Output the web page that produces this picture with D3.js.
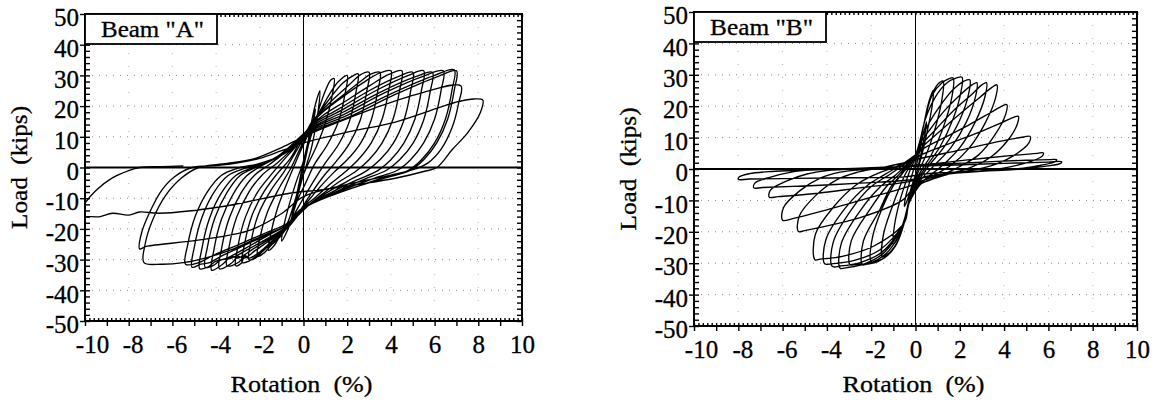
<!DOCTYPE html>
<html><head><meta charset="utf-8">
<script src="https://cdn.jsdelivr.net/npm/d3@7"></script>
<style>html,body{margin:0;padding:0;background:#fff;} svg{display:block;}
svg text{font-family:'Liberation Serif','Tinos','Times New Roman','DejaVu Serif',serif !important; stroke:#000; stroke-width:0.3px;}</style>
</head><body><svg id="c" width="1160" height="401"></svg>
<script>
// ---------- tick labels ----------
const xTicks = [-10,-8,-6,-4,-2,0,2,4,6,8,10];
const yTicks = [-50,-40,-30,-20,-10,0,10,20,30,40,50];
const gridY = [-40,-30,-20,-10,10,20,30,40];
const gridX = [-8,-6,-4,-2,2,4,6,8];

// ---------- Beam "A" load history: [rotation %, load kips], one array per cycle ----------
const beamA = [
 [[0,0],[0.2,7],[0.4,14],[0.3,11],[0,2],[-0.2,-5],[-0.4,-12],[-0.3,-9],[0,0]],
 [[0.3,10],[0.55,19],[0.45,15],[0.1,4],[-0.25,-7],[-0.55,-17],[-0.45,-13],[-0.1,-3],[0,0]],
 [[0.2,8],[0.4,16],[0.6,22],[0.75,25],[0.7,20],[0.55,13],[0.35,6],[0.1,0],[-0.15,-6],[-0.4,-13],[-0.6,-18],[-0.8,-21.5],[-1.0,-24]],
 [[-0.9,-19],[-0.65,-12],[-0.35,-5],[-0.05,1],[0.25,8],[0.5,14],[0.75,20],[1.0,25],[1.25,28.5],[1.4,29],[1.3,23],[1.0,14.5],[0.6,7],[0.2,1],[-0.1,-4],[-0.4,-11],[-0.7,-17.5],[-1.1,-22.5],[-1.35,-25.5],[-1.6,-27]],
 [[-1.5,-21.6],[-1.2,-13.5],[-0.75,-5],[-0.4,1],[0,7.5],[0.4,13.5],[0.8,19],[1.2,24],[1.6,28],[2.0,30],[1.9,24],[1.6,15],[1.1,7.5],[0.5,1],[0.1,-5],[-0.3,-11],[-0.6,-17.5],[-1.0,-22],[-1.5,-25.5],[-1.8,-27.8],[-2.1,-29]],
 [[-2.0,-23],[-1.65,-14.5],[-1.1,-6.5],[-0.6,-0.5],[-0.2,5.5],[0.2,11.5],[0.5,15.5],[1.1,21.5],[1.8,27.5],[2.3,30],[2.5,30.5],[2.4,24.5],[2.1,15],[1.6,7.5],[1.0,1.5],[0.5,-4],[0,-10],[-0.4,-15],[-0.7,-19],[-1.3,-23.5],[-1.9,-27.5],[-2.2,-29.5],[-2.5,-30]],
 [[-2.4,-24],[-2.05,-15],[-1.5,-7.5],[-0.9,-1.5],[-0.4,4.5],[0,9.5],[0.35,14.5],[0.7,17.5],[1.4,22.5],[2.1,27],[2.6,30.2],[3.0,31],[2.9,25],[2.6,15.5],[2.1,7.8],[1.5,2],[0.9,-3],[0.3,-9],[-0.2,-14.5],[-0.6,-18.5],[-1.3,-23.5],[-2.0,-28],[-2.5,-30.5],[-2.8,-31]],
 [[-2.7,-25],[-2.35,-15.5],[-1.8,-7.8],[-1.2,-2],[-0.6,3],[-0.2,8],[0.2,12.5],[0.55,16],[1.0,19],[1.8,23.5],[2.6,28],[3.1,30.5],[3.5,31],[3.4,25],[3.1,15.5],[2.6,7.8],[2.0,2.5],[1.4,-1.5],[0.8,-6],[0.2,-11],[-0.3,-15.5],[-0.65,-19],[-1.4,-24],[-2.2,-28.5],[-2.5,-29.6],[-2.7,-29],[-2.85,-31.2],[-3.1,-32]],
 [[-3.0,-25.6],[-2.65,-16],[-2.1,-8],[-1.5,-2.5],[-0.9,2.5],[-0.4,6.5],[0,10.5],[0.4,14.5],[0.8,17.5],[1.7,22.5],[2.7,27.5],[3.5,30.8],[4.0,31.5],[3.9,25.2],[3.6,15.8],[3.1,8],[2.5,2.5],[1.9,-1.5],[1.2,-5.5],[0.5,-10],[0,-13],[-0.35,-16.5],[-0.7,-19.5],[-1.3,-23],[-2.0,-27.5],[-2.5,-29.5],[-2.7,-28.6],[-2.95,-30.8],[-3.5,-32]],
 [[-3.4,-25.6],[-3.05,-16],[-2.5,-8],[-1.9,-2.5],[-1.2,1.5],[-0.6,5.5],[-0.1,9.5],[0.4,14],[0.9,17],[1.9,21.5],[3.0,26.5],[3.9,30.3],[4.5,31.5],[4.4,25.2],[4.1,15.8],[3.6,8],[3.0,2.5],[2.4,-1.2],[1.6,-4.8],[0.8,-9],[0.2,-12.5],[-0.3,-16],[-0.7,-19.5],[-1.3,-22.5],[-2.2,-27],[-2.7,-29.5],[-3.0,-29],[-3.3,-31.2],[-3.85,-33]],
 [[-3.75,-26.4],[-3.4,-16.5],[-2.85,-8.2],[-2.25,-2.6],[-1.6,0.8],[-1.0,4],[-0.4,8],[0.1,11.5],[0.5,14.5],[1.6,19],[3.0,25],[4.3,29.5],[5.0,31],[4.9,24.8],[4.6,15.5],[4.1,7.8],[3.5,2.5],[2.9,-1],[2.0,-4.5],[1.0,-8.5],[0.2,-12.5],[-0.3,-15.5],[-0.7,-19],[-1.4,-22.5],[-2.3,-26.5],[-3.0,-29.5],[-3.3,-29],[-3.7,-31.5],[-4.2,-33.5]],
 [[-4.1,-26.8],[-3.75,-16.8],[-3.2,-8.4],[-2.6,-2.7],[-2.0,0.2],[-1.3,3],[-0.6,7],[0,11],[0.5,14],[1.7,18.5],[3.3,25],[4.8,30],[5.5,31.5],[5.4,25.2],[5.1,15.8],[4.6,8],[4.0,2.5],[3.4,-1],[2.4,-4.2],[1.3,-8],[0.3,-12],[-0.3,-15.5],[-0.7,-19],[-1.5,-22.5],[-2.5,-26.5],[-3.3,-29.5],[-3.8,-30.2],[-4.1,-31.8],[-4.5,-32.5]],
 [[-4.4,-26],[-4.05,-16.3],[-3.5,-8.1],[-2.9,-2.6],[-2.2,0],[-1.5,2.3],[-0.7,6],[0,10.5],[0.5,13.5],[1.8,18],[3.5,24.5],[5.1,29.5],[5.9,31],[5.8,24.8],[5.5,15.5],[5.0,7.8],[4.4,2.5],[3.8,-0.9],[2.8,-3.8],[1.6,-7.5],[0.4,-11.5],[-0.3,-15],[-0.7,-18.5],[-1.6,-22],[-2.7,-26.5],[-3.5,-29.5],[-4.0,-30.5],[-4.4,-32.5],[-4.75,-33]],
 [[-4.65,-26.4],[-4.3,-16.5],[-3.75,-8.2],[-3.1,-2.6],[-2.4,-0.2],[-1.6,1.8],[-0.8,5],[0,10],[0.5,13],[1.9,17.5],[3.7,24.3],[5.5,29.8],[6.4,31.5],[6.3,25.2],[6.0,15.8],[5.5,8],[4.9,2.5],[4.3,-0.9],[3.2,-3.6],[1.9,-7],[0.6,-11],[-0.2,-14.5],[-0.7,-18.5],[-1.7,-22],[-2.9,-26],[-3.8,-29],[-4.3,-31],[-4.7,-31.5],[-5.1,-32.5]],
 [[-5.0,-26],[-4.65,-16.3],[-4.1,-8.1],[-3.45,-2.6],[-2.7,-0.3],[-1.8,1.5],[-0.9,4.5],[0,9.5],[0.5,12.5],[2.0,17],[4.0,24],[6.0,30],[6.9,31.8],[6.8,25.4],[6.5,15.9],[6.0,8],[5.4,2.5],[4.8,-0.9],[3.6,-3.5],[2.2,-6.8],[0.8,-10.5],[-0.2,-14],[-0.7,-18],[-1.8,-21.5],[-3.1,-25.5],[-4.1,-28.5],[-4.8,-31],[-5.4,-31.5]],
 [[-5.3,-25.2],[-4.95,-15.8],[-4.4,-7.9],[-3.75,-2.5],[-3.0,-0.2],[-2,1.3],[-1,4],[0,9],[0.5,12],[2.1,16.5],[4.2,23.8],[6.2,29.8],[7.0,31.5],[6.9,25.2],[6.6,15.8],[6.1,8],[5.5,2.5],[4.9,-0.9],[3.8,-3.3],[2.4,-6.3],[0.9,-10],[-0.2,-14],[-0.7,-18.5],[-1.8,-22],[-3.2,-26.5],[-4.5,-29.5],[-5.5,-31],[-6.5,-31.5],[-7.3,-31]],
 [[-7.25,-25],[-6.9,-17],[-6.3,-9],[-5.6,-3.5],[-4.8,0],[-3.5,1.3],[-2.2,3],[-1,6.5],[0,10],[1.5,14.5],[3.5,20],[5.5,24.5],[7.2,26.6],[7.1,21],[6.8,13],[6.3,6],[5.7,1.5],[5.2,-0.3],[4,-2.5],[2,-5.5],[0,-9.5],[-1,-15],[-2.4,-20.3],[-4.75,-23.6],[-7.2,-25.7],[-7.5,-26.5]],
 [[-7.4,-21],[-7.0,-14],[-6.5,-7.5],[-5.9,-3],[-5.1,0],[-4,0.6],[-3,1.5],[-2,3],[-1,5.5],[0,8],[2,11.5],[4.2,14.8],[6.2,19.5],[7.1,21.5],[7.8,22.3],[8.2,22],[8.1,18],[7.5,11.2],[6.8,5.8],[6.1,0],[5.5,-1.3],[4.2,-3.5],[2.5,-5.5],[0.9,-7.2],[-0.64,-8.4],[-3.7,-12.7],[-6.6,-14.9],[-7.5,-14.5],[-8,-15.5],[-8.75,-14.9],[-9.3,-16],[-10,-16],[-10.5,-16.5]],
 [[-10.2,-14],[-10,-11.6],[-9.5,-7.5],[-8.75,-3.4],[-8,-1],[-7.5,0],[-6.5,0.3],[-5.5,0.5]]
];

// ---------- Beam "B" load history ----------
const beamB = [
 [[0,0],[0.15,4.5],[0.3,9.5],[0.42,13],[0.5,15],[0.45,12],[0.25,5],[0.05,-1],[-0.15,-5],[-0.3,-8.5],[-0.42,-10.8],[-0.5,-12]],
 [[-0.45,-9],[-0.3,-5],[-0.1,-0.5],[0.1,5],[0.25,10],[0.4,15],[0.55,20],[0.7,23.5],[0.8,25],[0.75,20],[0.5,11],[0.25,3.5],[0.05,-1],[-0.15,-5],[-0.3,-10],[-0.5,-16],[-0.7,-20],[-0.88,-23],[-1.0,-24]],
 [[-0.95,-18],[-0.7,-10],[-0.45,-4.5],[-0.25,-0.5],[0,3.5],[0.2,8],[0.4,15],[0.65,22],[0.95,26.5],[1.1,27.6],[1.25,28],[1.2,22.4],[0.85,12],[0.45,4],[0.15,-0.5],[-0.1,-5],[-0.3,-11],[-0.5,-17],[-0.8,-23],[-1.15,-26.5],[-1.35,-27.5],[-1.5,-28]],
 [[-1.45,-21],[-1.05,-12],[-0.7,-5.5],[-0.45,-1.5],[-0.2,1.5],[0,4.5],[0.2,8],[0.4,15],[0.75,23.5],[1.2,27.5],[1.5,28.7],[1.7,29],[1.65,23.2],[1.2,12.2],[0.7,4.3],[0.3,0],[0,-4],[-0.3,-11],[-0.5,-17],[-0.9,-24.5],[-1.4,-28.3],[-1.7,-29.2],[-2.0,-29.5]],
 [[-1.95,-22],[-1.5,-12.4],[-1.0,-5.3],[-0.6,-1.5],[-0.25,1.5],[0,4.5],[0.2,9],[0.45,16],[0.9,23],[1.4,27.3],[1.85,29],[2.1,29.2],[2.05,24.5],[1.7,16],[1.1,7],[0.45,0.5],[0.05,-4],[-0.3,-11],[-0.5,-17],[-1.0,-25.5],[-1.7,-29.5],[-2.2,-30.3],[-2.4,-30.5]],
 [[-2.35,-22.9],[-1.6,-12.8],[-1.1,-5.5],[-0.65,-1.8],[-0.3,1.5],[0,4.5],[0.2,8.5],[0.6,14.5],[1.1,20],[1.7,25.3],[2.2,28],[2.45,28.4],[2.4,24],[2.0,15.6],[1.3,7.1],[0.6,1],[0.1,-4.2],[-0.3,-11],[-0.5,-17],[-1.2,-26],[-2.0,-29.8],[-2.7,-30.4],[-2.95,-30.5]],
 [[-2.9,-22.9],[-2.05,-12.8],[-1.3,-5.5],[-0.75,-1.8],[-0.35,1.5],[0,4.5],[0.2,8],[0.7,13],[1.3,18.5],[2.0,23.5],[2.55,26.8],[2.77,27.5],[2.72,23.4],[2.3,15],[1.6,6.8],[0.8,0.8],[0.15,-4.3],[-0.3,-11],[-0.5,-17],[-1.4,-26.5],[-2.3,-30.2],[-3.1,-31.4],[-3.4,-31.6]],
 [[-3.35,-23.7],[-2.5,-13.3],[-1.6,-5.7],[-0.9,-1.9],[-0.4,1.5],[0,4.5],[0.25,7.5],[0.9,12.5],[1.7,18.5],[2.5,23.5],[3.0,26.8],[3.2,27.5],[3.15,23.4],[2.7,15],[2.0,6.8],[1.2,1],[0.3,-4.2],[-0.3,-11],[-0.5,-17],[-1.5,-26.4],[-2.5,-29.8],[-3.4,-30.9],[-3.76,-31]],
 [[-3.71,-23.2],[-2.9,-13],[-2.0,-5.6],[-1.2,-1.9],[-0.5,1.5],[0,4.5],[0.3,7],[1.1,12],[2.0,17.5],[2.9,22.8],[3.45,26],[3.67,26.8],[3.62,22.8],[3.15,14.7],[2.4,6.5],[1.6,1.2],[0.7,-2.5],[0.1,-5],[-0.3,-11],[-0.5,-17],[-1.6,-25.7],[-2.8,-29.2],[-3.8,-30.2],[-4.1,-30.2]],
 [[-4.05,-22.6],[-3.2,-12.7],[-2.2,-5.4],[-1.4,-1.8],[-0.6,1.5],[0,4.5],[0.35,6.5],[1.3,10],[2.4,14],[3.4,18],[3.95,20.2],[4.12,20.5],[4.07,17.4],[3.6,11],[2.85,4.5],[2.0,0.8],[1.0,-2.5],[0.2,-5],[-0.3,-11],[-0.5,-17],[-1.9,-24.6],[-3.3,-27.8],[-4.3,-28.7],[-4.54,-28.9]],
 [[-4.52,-20.8],[-3.7,-12.1],[-2.7,-5.2],[-1.8,-1.7],[-0.8,1],[0,3.5],[0.4,5],[1.5,8],[2.8,11.5],[3.9,14.8],[4.45,16.5],[4.64,16.8],[4.59,14.2],[4.15,9],[3.4,3.8],[2.5,0.5],[1.3,-2],[0.3,-4.5],[-0.2,-7],[-0.6,-10],[-2.5,-15.5],[-4.3,-18.6],[-5.0,-19.6],[-5.29,-19.9]],
 [[-5.24,-14.9],[-4.5,-8.4],[-3.6,-3.6],[-2.7,-1.2],[-1.5,0.5],[-0.5,2],[0.3,3.5],[2.0,6],[3.8,8.8],[4.9,10.2],[5.17,10.4],[5.12,8.3],[4.47,4.4],[3.67,1.6],[2.87,0],[1.5,-1.5],[0.4,-3.5],[-0.3,-5.5],[-2.0,-9],[-4.0,-13],[-5.5,-15.7],[-6.0,-16.3]],
 [[-5.95,-12.2],[-5.2,-6.8],[-4.3,-2.9],[-3.4,-1],[-2,0],[-0.5,1],[0.5,1.5],[2.5,3],[4.5,4.4],[5.5,5],[5.77,5.1],[5.72,4.1],[5.07,2.1],[4.27,0.7],[3.47,-0.2],[2,-1.2],[0.5,-2.5],[-0.3,-4],[-2.5,-6],[-4.5,-7.8],[-6.2,-8.8],[-6.6,-9]],
 [[-6.55,-6.7],[-5.8,-3.8],[-4.9,-1.6],[-4.0,-0.5],[-2,0.3],[-0.3,1],[1,1.5],[3,2.2],[5,2.8],[6.1,3],[6.37,3],[6.32,2.4],[5.67,1.2],[4.87,0.3],[4.07,-0.2],[2.5,-1],[0.8,-2],[-0.3,-3.5],[-2.5,-4.5],[-5,-5.4],[-6.9,-5.9],[-7.3,-6]],
 [[-7.25,-4.5],[-6.5,-2.5],[-5.6,-1],[-4.7,-0.3],[-2.5,0.3],[-0.5,0.8],[1.5,1.2],[4,1.8],[6,2.2],[6.6,2.3],[6.55,1.8],[5.9,0.9],[5.1,0.2],[4.3,-0.3],[2.5,-0.8],[0.5,-1.5],[-0.5,-2.5],[-3,-2.8],[-5.5,-3],[-7.5,-3.2],[-8.0,-3.3]],
 [[-7.95,-2.5],[-7.5,-1.5],[-6.5,-0.8],[-5,-0.4],[-3,0]]
];

const titles = ['Beam "A"', 'Beam "B"'];
const xTitle = 'Rotation\u00a0\u00a0(%)';
const yTitle = 'Load\u00a0\u00a0(kips)';

// ---------- layout ----------
const layout = [
  {x0:85, x1:522, y0:14, y1:321},
  {x0:694, x1:1137, y0:12, y1:326}
];
const series = [beamA, beamB];
const FONT = "'Liberation Serif','Tinos','Times New Roman','DejaVu Serif',serif";

const svg = d3.select('#c');
svg.append('rect').attr('width',1160).attr('height',401).attr('fill','#fff');
const defs = svg.append('defs');

layout.forEach((p, i) => {
  const x = d3.scaleLinear().domain([-10,10]).range([p.x0,p.x1]);
  const y = d3.scaleLinear().domain([-50,50]).range([p.y1,p.y0]);
  const g = svg.append('g');
  const cid = 'clip' + i;
  defs.append('clipPath').attr('id', cid).append('rect')
    .attr('x', p.x0).attr('y', p.y0).attr('width', p.x1 - p.x0).attr('height', p.y1 - p.y0);

  // faint dotted grid
  g.append('g').selectAll('line').data(gridY).join('line')
    .attr('x1', p.x0).attr('x2', p.x1).attr('y1', d => y(d)).attr('y2', d => y(d))
    .attr('stroke', '#8a8a8a').attr('stroke-width', 1).attr('stroke-dasharray', '1,6');
  g.append('g').selectAll('line').data(gridX).join('line')
    .attr('y1', p.y0).attr('y2', p.y1).attr('x1', d => x(d)).attr('x2', d => x(d))
    .attr('stroke', '#b8b8b8').attr('stroke-width', 1).attr('stroke-dasharray', '1,12');

  // zero axes
  g.append('line').attr('x1', x(0)).attr('x2', x(0)).attr('y1', p.y0).attr('y2', p.y1)
    .attr('stroke', '#000').attr('stroke-width', 1);
  g.append('line').attr('x1', p.x0).attr('x2', p.x1).attr('y1', y(0)).attr('y2', y(0))
    .attr('stroke', '#000').attr('stroke-width', 2.2);

  // hysteresis curve
  const line = d3.line().x(d => x(d[0])).y(d => y(d[1])).curve(d3.curveCatmullRom.alpha(0.5));
  g.append('path').datum(series[i].flat()).attr('d', line)
    .attr('fill', 'none').attr('stroke', '#000').attr('stroke-width', 1.35)
    .attr('stroke-linejoin', 'round').attr('clip-path', `url(#${cid})`);

  // frame
  g.append('rect').attr('x', p.x0).attr('y', p.y0).attr('width', p.x1 - p.x0).attr('height', p.y1 - p.y0)
    .attr('fill', 'none').attr('stroke', '#000').attr('stroke-width', 2);

  // ticks via axes
  const ax = (gen, tx, ty) => {
    const a = g.append('g').attr('transform', `translate(${tx},${ty})`).call(gen);
    a.select('.domain').remove();
    a.selectAll('line').attr('stroke', '#000').attr('stroke-width', 1.4);
    return a;
  };
  const minorX = d3.range(-100, 101, 2).map(v => v / 10);
  const unitX = d3.range(-10, 11, 1);
  const minorY = d3.range(-50, 51, 2);
  ax(d3.axisBottom(x).tickValues(unitX).tickSize(5).tickFormat(''), 0, p.y1);
  ax(d3.axisBottom(x).tickValues(minorX).tickSize(-3).tickFormat(''), 0, p.y1);
  ax(d3.axisTop(x).tickValues(minorX).tickSize(-3).tickFormat(''), 0, p.y0);
  ax(d3.axisLeft(y).tickValues(minorY).tickSize(-5).tickFormat(''), p.x0, 0);
  ax(d3.axisLeft(y).tickValues(yTicks).tickSize(5).tickFormat(''), p.x0, 0);
  ax(d3.axisRight(y).tickValues(minorY).tickSize(-5).tickFormat(''), p.x1, 0);

  // tick labels
  const xl = ax(d3.axisBottom(x).tickValues(xTicks).tickSize(0).tickPadding(14).tickFormat(d => String(d)), 0, p.y1);
  xl.attr('font-family', null).attr('font-size', 25);
  xl.selectAll('text').attr('fill', '#000').style('font-family', FONT).style('font-size', '25px')
    .attr('dx', d => d === -10 ? 7 : (d < 0 ? 4 : 0));
  const yl = ax(d3.axisLeft(y).tickValues(yTicks).tickSize(0).tickPadding(6).tickFormat(d => String(d)), p.x0, 0);
  yl.attr('font-family', null).attr('font-size', 25);
  yl.selectAll('text').attr('fill', '#000').style('font-family', FONT).style('font-size', '25px')
    .attr('dy', '0.47em');

  // axis titles
  g.append('text').attr('x', x(0) - 2).attr('y', 392).attr('text-anchor', 'middle')
    .style('font-family', FONT).attr('font-size', 24).attr('textLength', 142).attr('lengthAdjust', 'spacingAndGlyphs')
    .text(xTitle);
  g.append('text').attr('transform', `translate(${p.x0 - 58},${y(0)}) rotate(-90)`).attr('text-anchor', 'middle')
    .style('font-family', FONT).attr('font-size', 24).attr('textLength', 123).attr('lengthAdjust', 'spacingAndGlyphs')
    .text(yTitle);

  // label box
  g.append('rect').attr('x', p.x0).attr('y', p.y0).attr('width', 132).attr('height', 30)
    .attr('fill', '#fff').attr('stroke', '#000').attr('stroke-width', 1.8);
  g.append('text').attr('x', p.x0 + 16).attr('y', p.y0 + 23)
    .style('font-family', FONT).attr('font-size', 23).attr('textLength', 103).attr('lengthAdjust', 'spacingAndGlyphs')
    .text(titles[i]);
});
</script>
</body></html>
